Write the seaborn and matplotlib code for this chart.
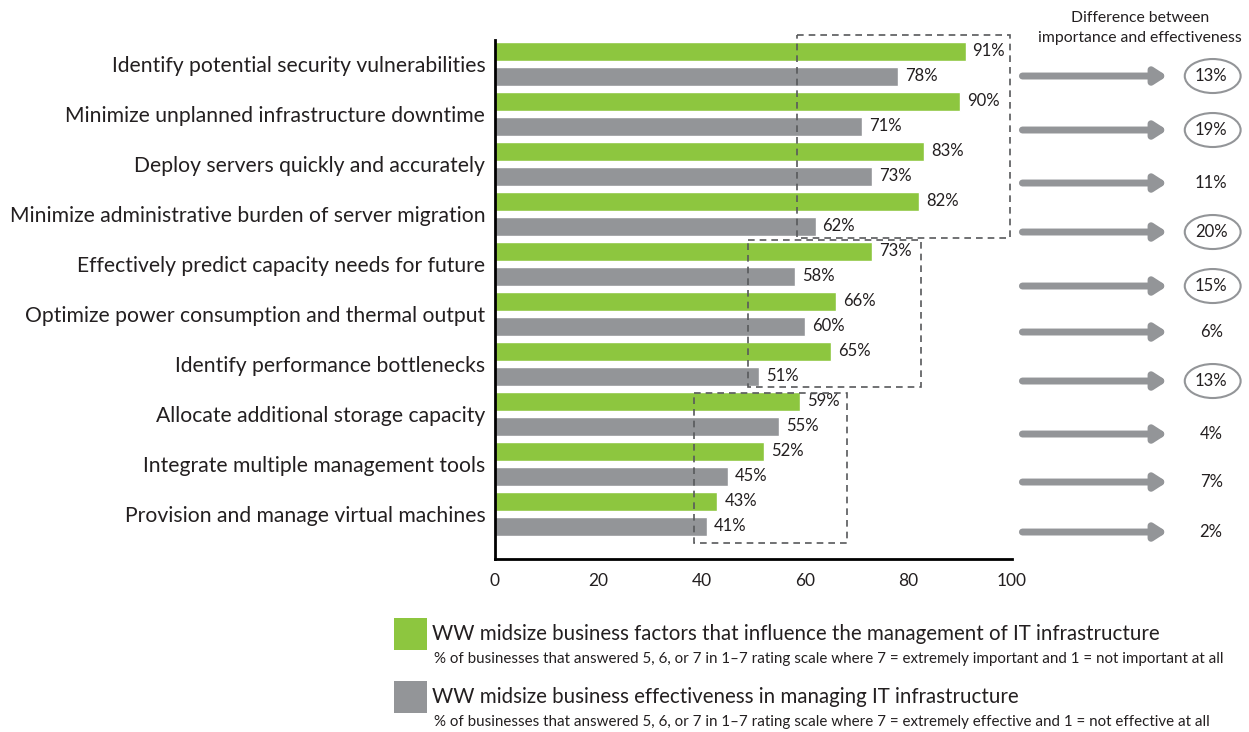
import pandas as pd
import numpy as np
import seaborn as sns
import matplotlib.pyplot as plt
from matplotlib.patches import Rectangle, Ellipse

## Data
factors = ["Identify potential security vulnerabilities",
           "Minimize unplanned infrastructure downtime",
           "Deploy servers quickly and accurately",
           "Minimize administrative burden of server migration",
           "Effectively predict capacity needs for future",
           "Optimize power consumption and thermal output",
           "Identify performance bottlenecks",
           "Allocate additional storage capacity",
           "Integrate multiple management tools",
           "Provision and manage virtual machines"]
importance = [91, 90, 83, 82, 73, 66, 65, 59, 52, 43]
effectiveness = [78, 71, 73, 62, 58, 60, 51, 55, 45, 41]
difference = [13, 19, 11, 20, 15, 6, 13, 4, 7, 2]
circled = [True, True, False, True, True, False, True, False, False, False]

series_names = ["WW midsize business factors that influence the management of IT infrastructure",
                "WW midsize business effectiveness in managing IT infrastructure"]
series_notes = ["% of businesses that answered 5, 6, or 7 in 1\u20137 rating scale where 7 = extremely important and 1 = not important at all",
                "% of businesses that answered 5, 6, or 7 in 1\u20137 rating scale where 7 = extremely effective and 1 = not effective at all"]

GREEN = "#8DC63F"
GRAY = "#939598"
TEXT = "#231F20"

df = pd.DataFrame({
    "factor": factors * 2,
    "series": ["importance"] * len(factors) + ["effectiveness"] * len(factors),
    "value": importance + effectiveness,
})

sns.set_style("white")
plt.rcParams['font.family'] = ['Lato', 'DejaVu Sans']

fig = plt.figure(figsize=(12.49, 7.32), dpi=100)
ax = fig.add_axes([0.3963, 0.2363, 0.4140, 0.7145])

sns.barplot(data=df, y="factor", x="value", hue="series", orient="h",
            palette={"importance": GREEN, "effectiveness": GRAY},
            width=1.0, gap=0.24, saturation=1, legend=False, ax=ax)

for cont in ax.containers:
    ax.bar_label(cont, fmt="%d%%", padding=5, fontsize=12, color=TEXT)

ax.set_xlim(0, 100)
ax.set_ylim(9.91, -0.55)
ax.set_xlabel("")
ax.set_ylabel("")
ax.set_xticks([0, 20, 40, 60, 80, 100])
ax.tick_params(axis="x", direction="in", length=9, width=2, color="black",
               labelsize=12.5, labelcolor=TEXT, pad=10)
ax.tick_params(axis="y", length=0, labelsize=15.2, labelcolor=TEXT, pad=7)
for s in ["top", "right"]:
    ax.spines[s].set_visible(False)
for s in ["left", "bottom"]:
    ax.spines[s].set_linewidth(2)
    ax.spines[s].set_color("black")
ax.spines["left"].set_bounds(9.91, -0.47)

# dashed group boxes
boxes = [(58.4, 99.6, -0.57, 3.49), (48.9, 82.4, 3.53, 6.47), (38.5, 68.1, 6.59, 9.59)]
for x0, x1, y0, y1 in boxes:
    ax.add_patch(Rectangle((x0, y0), x1 - x0, y1 - y0, fill=False,
                           edgecolor="#58595B", lw=1.2, ls=(0, (4, 3)),
                           clip_on=False, zorder=5))

# difference arrows
arrow_y = [0.25, 1.33, 2.39, 3.37, 4.45, 5.37, 6.35, 7.41, 8.37, 9.37]
for yy, d, c in zip(arrow_y, difference, circled):
    ax.annotate("", xy=(130, yy), xytext=(102, yy), xycoords="data",
                annotation_clip=False,
                arrowprops=dict(arrowstyle="-|>,head_length=0.7,head_width=0.45",
                                color=GRAY, lw=5, shrinkA=0, shrinkB=0))
    ax.text(138.5, yy, f"{d}%", ha="center", va="center", fontsize=12,
            color=TEXT, clip_on=False)
    if c:
        ax.add_patch(Ellipse((138.8, yy), 10.8, 0.68, fill=False,
                             edgecolor=GRAY, lw=1.5, clip_on=False))

fig.text(0.9125, 0.975, "Difference between", ha="center", va="center",
         fontsize=11.3, color=TEXT)
fig.text(0.9125, 0.948, "importance and effectiveness", ha="center", va="center",
         fontsize=11.3, color=TEXT)

# legend
leg_y = [634, 697]
for i, (col, name, note) in enumerate(zip([GREEN, GRAY], series_names, series_notes)):
    yc = leg_y[i]
    fig.patches.append(Rectangle((394 / 1249, 1 - (yc + 16) / 732), 33 / 1249, 32 / 732,
                                 transform=fig.transFigure, facecolor=col,
                                 edgecolor="none"))
    fig.text(432 / 1249, 1 - yc / 732, name, ha="left", va="center",
             fontsize=14.8, color=TEXT)
    fig.text(434 / 1249, 1 - (yc + 25) / 732, note, ha="left", va="center",
             fontsize=10.9, color=TEXT)

fig.savefig("out.png", dpi=100)
